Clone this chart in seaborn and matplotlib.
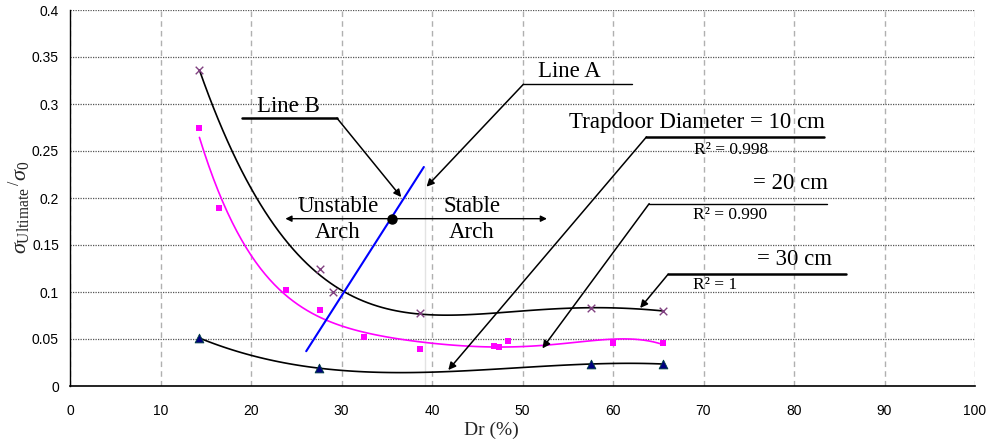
import numpy as np
import pandas as pd
import matplotlib
matplotlib.use("Agg")
import matplotlib.pyplot as plt
import seaborn as sns

# ---- data ----
dr_10 = [14.3, 27.6, 29.1, 38.7, 57.6, 65.5]
s_10 = [0.336, 0.1245, 0.100, 0.0777, 0.083, 0.080]

dr_20 = [14.3, 16.5, 23.9, 27.6, 32.5, 38.7, 46.9, 47.4, 48.4, 60.0, 65.5]
s_20 = [0.274, 0.189, 0.102, 0.081, 0.052, 0.039, 0.043, 0.0415, 0.048, 0.0457, 0.0457]

dr_30 = [14.3, 27.5, 57.6, 65.5]
s_30 = [0.051, 0.019, 0.0234, 0.0234]

line_a_x = [39.2, 39.2]
line_a_y = [0.0, 0.233]
line_b_x = [26.1, 39.1]
line_b_y = [0.037, 0.233]
point_x = [35.6]
point_y = [0.178]

x_ticks = [0, 10, 20, 30, 40, 50, 60, 70, 80, 90, 100]
y_ticks = [0, 0.05, 0.1, 0.15, 0.2, 0.25, 0.3, 0.35, 0.4]
y_tick_labels = ["0", "0.05", "0.1", "0.15", "0.2", "0.25", "0.3", "0.35", "0.4"]

# ---- style ----
sns.set_style("white")
plt.rcParams["font.family"] = ["Liberation Sans", "DejaVu Sans"]
plt.rcParams["mathtext.fontset"] = "custom"
plt.rcParams["mathtext.rm"] = "Liberation Serif"
plt.rcParams["mathtext.it"] = "Liberation Serif:italic"

SERIF = ["Liberation Serif", "DejaVu Serif"]

fig = plt.figure(figsize=(9.92, 4.45), dpi=100)
ax = fig.add_axes([70 / 992, 1 - 386 / 445, 905 / 992, 376 / 445])

df10 = pd.DataFrame({"dr": dr_10, "s": s_10})
df20 = pd.DataFrame({"dr": dr_20, "s": s_20})
df30 = pd.DataFrame({"dr": dr_30, "s": s_30})

# trend lines (polynomial, like spreadsheet trendlines)
sns.regplot(data=df10, x="dr", y="s", order=4, ci=None, truncate=True, scatter=False,
            line_kws=dict(color="black", lw=1.2), ax=ax)
sns.regplot(data=df20, x="dr", y="s", order=5, ci=None, truncate=True, scatter=False,
            line_kws=dict(color="#ff00ff", lw=1.2), ax=ax)
sns.regplot(data=df30, x="dr", y="s", order=3, ci=None, truncate=True, scatter=False,
            line_kws=dict(color="black", lw=1.2), ax=ax)

# markers
sns.scatterplot(data=df10, x="dr", y="s", marker="x", color="#804080", s=30, linewidth=1.0, ax=ax, zorder=5)
sns.scatterplot(data=df20, x="dr", y="s", marker="s", color="#ff00ff", s=16, linewidth=0, ax=ax, zorder=5)
sns.scatterplot(data=df30, x="dr", y="s", marker="^", color="#000080", s=40, edgecolor="#004040",
                linewidth=0.6, ax=ax, zorder=5)

# Line A and Line B
sns.lineplot(x=line_a_x, y=line_a_y, color="#777777", lw=2.4, ax=ax, zorder=4)
sns.lineplot(x=line_b_x, y=line_b_y, color="#0000ff", lw=1.5, ax=ax, zorder=4)
ax.plot(point_x, point_y, "o", color="black", ms=6.5, zorder=6)

# axes
ax.set_xlim(0, 100)
ax.set_ylim(0, 0.4)
ax.set_xticks(x_ticks)
ax.set_yticks(y_ticks)
ax.set_yticklabels(y_tick_labels)
ax.tick_params(axis="both", labelsize=10, colors="black")
ax.tick_params(axis="x", direction="out", length=5, width=1.2, color="#aaaaaa", pad=8)
ax.tick_params(axis="y", direction="out", length=5, width=1.0, color="black", pad=3)
ax.grid(axis="x", color="#b0b0b0", linestyle=(0, (4, 3)), lw=1.0)
ax.grid(axis="y", color="#555555", linestyle=(0, (1, 1)), lw=0.9)
for side in ["top", "right"]:
    ax.spines[side].set_visible(False)
ax.spines["left"].set_color("black")
ax.spines["bottom"].set_color("black")
ax.spines["left"].set_linewidth(1.0)
ax.spines["bottom"].set_linewidth(1.2)

ax.set_xlabel("Dr (%)", family=SERIF, fontsize=14)
ax.xaxis.set_label_coords((491 - 70) / 905, -(422 - 386) / 376)
ax.set_ylabel(r"$\sigma_{\mathrm{Ultimate}}\,{}^{/}\sigma_{0}$", fontsize=16)
ax.yaxis.set_label_coords(-(70 - 33) / 905, (386 - 207) / 376)

big = dict(family=SERIF, fontsize=16.5, color="black")
small = dict(family=SERIF, fontsize=12.5, color="black")
arrow = dict(arrowstyle="-|>", color="black", lw=1.1, mutation_scale=11, shrinkA=0, shrinkB=0)

# Line B
ax.text(24.1, 0.297, "Line B", ha="center", va="center", **big)
ax.plot([19.0, 29.5], [0.285, 0.285], color="black", lw=1.8)
ax.annotate("", xy=(36.6, 0.201), xytext=(29.5, 0.285), arrowprops=arrow)

# Line A
ax.text(55.2, 0.335, "Line A", ha="center", va="center", **big)
ax.plot([50.1, 62.1], [0.321, 0.321], color="black", lw=1.0)
ax.annotate("", xy=(39.4, 0.212), xytext=(50.1, 0.321), arrowprops=arrow)

# Trapdoor labels
ax.text(69.3, 0.280, "Trapdoor Diameter = 10 cm", ha="center", va="center", **big)
ax.plot([63.7, 83.3], [0.265, 0.265], color="black", lw=1.8)
ax.annotate("", xy=(41.8, 0.017), xytext=(63.7, 0.265), arrowprops=arrow)
ax.text(73.0, 0.251, "R² = 0.998", ha="center", va="center", **small)

ax.text(83.8, 0.215, "= 20 cm", ha="right", va="center", **big)
ax.plot([64.0, 83.6], [0.194, 0.194], color="black", lw=1.0)
ax.annotate("", xy=(52.2, 0.040), xytext=(64.0, 0.194), arrowprops=arrow)
ax.text(72.9, 0.182, "R² = 0.990", ha="center", va="center", **small)

ax.text(84.2, 0.135, "= 30 cm", ha="right", va="center", **big)
ax.plot([66.1, 85.7], [0.119, 0.119], color="black", lw=1.8)
ax.annotate("", xy=(63.0, 0.083), xytext=(66.1, 0.119), arrowprops=arrow)
ax.text(71.3, 0.107, "R² = 1", ha="center", va="center", **small)

# Stable / Unstable
ax.text(29.6, 0.191, "Unstable", ha="center", va="center", **big)
ax.text(29.6, 0.163, "Arch", ha="center", va="center", **big)
ax.text(44.4, 0.191, "Stable", ha="center", va="center", **big)
ax.text(44.4, 0.163, "Arch", ha="center", va="center", **big)
ax.annotate("", xy=(23.8, 0.178), xytext=(35.6, 0.178), arrowprops=dict(arrow, lw=1.0, mutation_scale=9))
ax.annotate("", xy=(52.7, 0.178), xytext=(35.6, 0.178), arrowprops=dict(arrow, lw=1.0, mutation_scale=9))

fig.savefig("out.png", dpi=100)
